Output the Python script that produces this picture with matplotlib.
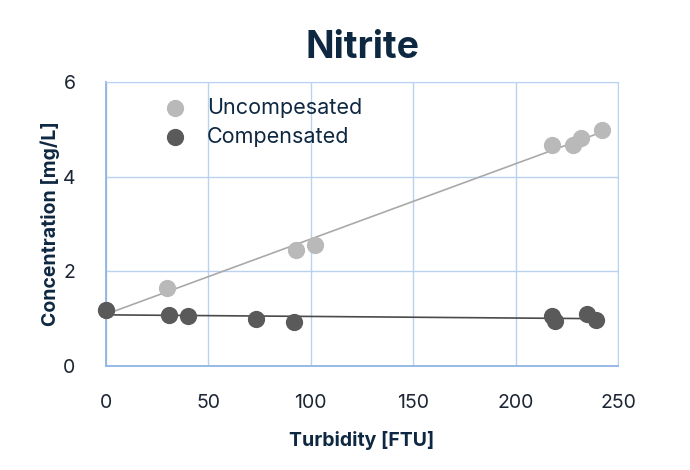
import numpy as np
from matplotlib import pyplot as plt

plt.rcParams['font.family'] = ['Inter', 'DejaVu Sans']

# values
turb_uncomp = [0, 30, 93, 102, 218, 228, 232, 242]
conc_uncomp = [1.18, 1.65, 2.46, 2.55, 4.66, 4.66, 4.81, 4.98]

turb_comp = [0, 31, 40, 73, 92, 218, 219, 235, 239]
conc_comp = [1.19, 1.08, 1.06, 1.00, 0.93, 1.05, 0.95, 1.10, 0.98]

series_names = ['Uncompesated', 'Compensated']
x_ticks = [0, 50, 100, 150, 200, 250]
y_ticks = [0, 2, 4, 6]

navy = '#0e2841'
grid_col = '#b8d2f0'
spine_col = '#8fb4e3'

fig = plt.figure(figsize=(6.9, 4.7), dpi=100)
ax = fig.add_axes([0.1536, 0.2213, 0.7421, 0.6042])

''' ----- trend lines (linear fit over the data range) ----- '''
for xs, ys, col in [(turb_uncomp, conc_uncomp, '#a9a9a9'), (turb_comp, conc_comp, '#4a4a4a')]:
    xs = np.array(xs, dtype=float)
    ys = np.array(ys, dtype=float)
    k, b = np.polyfit(xs, ys, 1)
    xx = np.array([xs.min(), xs.max()])
    ax.plot(xx, k*xx+b, color=col, lw=1.2, zorder=2)

''' ----- points ----- '''
ax.scatter(turb_uncomp, conc_uncomp, s=130, color='#b9b9b9', label=series_names[0], zorder=3, clip_on=False)
ax.scatter(turb_comp, conc_comp, s=130, color='#5a5a5a', label=series_names[1], zorder=4, clip_on=False)

ax.set_xlim(0, 250)
ax.set_ylim(0, 6)
ax.set_xticks(x_ticks)
ax.set_yticks(y_ticks)
ax.grid(True, color=grid_col, lw=1.0)
ax.set_axisbelow(True)
ax.tick_params(length=0, labelsize=14, labelcolor='#1c2533', pad=22)
ax.tick_params(axis='x', pad=20)

for side in ['top', 'right']:
    ax.spines[side].set_color(grid_col)
for side in ['left', 'bottom']:
    ax.spines[side].set_color(spine_col)
    ax.spines[side].set_linewidth(1.3)

ax.set_title('Nitrite', fontsize=27, fontweight='bold', color=navy, pad=17)
ax.set_xlabel('Turbidity [FTU]', fontsize=14, fontweight='bold', color=navy, labelpad=14)
ax.set_ylabel('Concentration [mg/L]', fontsize=14, fontweight='bold', color=navy, labelpad=2)

leg = ax.legend(loc='upper left', bbox_to_anchor=(0.054, 1.012), frameon=False, fontsize=15.5,
                handletextpad=0.5, labelspacing=0.4, labelcolor=navy, scatterpoints=1)

plt.savefig('out.png', dpi=100)
plt.close()
